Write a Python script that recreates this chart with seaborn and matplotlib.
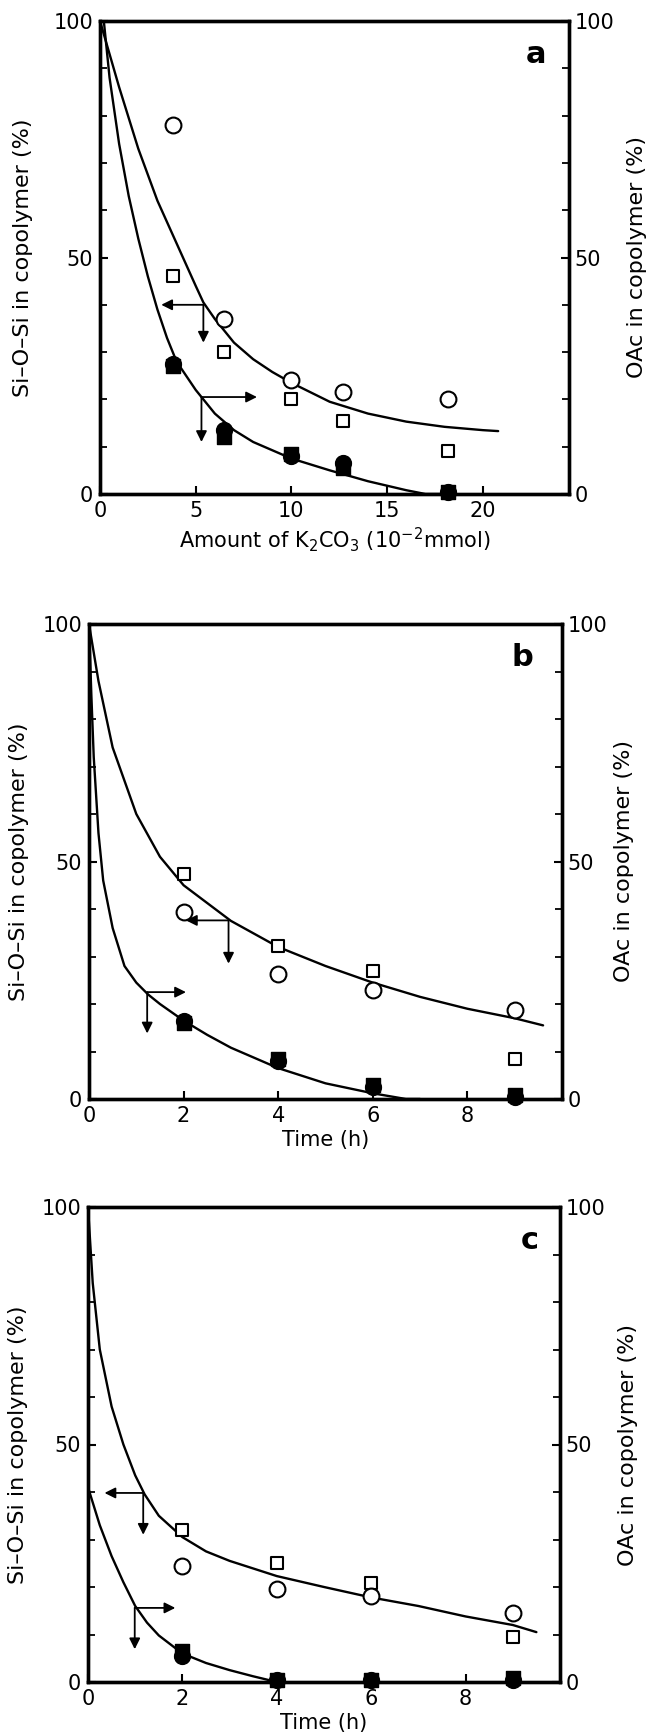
import matplotlib
matplotlib.use("Agg")
import matplotlib.pyplot as plt
import seaborn as sns
import numpy as np

# -----------------------------
# Panel a: amount of K2CO3
# -----------------------------
a_x = [3.8, 6.5, 10.0, 12.7, 18.2]
a_open_circle = [78, 37, 24, 21.5, 20]
a_open_square = [46, 30, 20, 15.5, 9]
a_fill_circle = [27.5, 13.5, 8, 6.5, 0.5]
a_fill_square = [27, 12, 8.5, 5.5, 0.5]

a_curve1_x = [0, 1, 2, 3, 4, 5, 5.4, 6, 7, 8, 9, 10, 12, 14, 16, 18, 20, 20.8]
a_curve1_y = [100, 86, 73, 62, 53, 44, 40.5, 37, 32, 28.5, 25.8, 23.5, 19.5, 17, 15.3, 14.2, 13.5, 13.3]
a_curve2_x = [0.2, 0.5, 1, 1.5, 2, 2.5, 3, 3.5, 4, 5, 5.3, 6, 7, 8, 10, 12, 14, 16, 17, 18.2]
a_curve2_y = [100, 88, 74, 63, 54, 46, 39, 33, 28, 22, 20.5, 17, 13.5, 11, 7.5, 5, 2.7, 0.8, 0, 0]

# arrows: (junction, horizontal tip, vertical tip)
a_arrows = [((5.4, 40), (3.2, 40), (5.4, 32)),
            ((5.3, 20.5), (8.2, 20.5), (5.3, 11))]

# -----------------------------
# Panel b: time
# -----------------------------
b_x = [2, 4, 6, 9]
b_open_circle = [39.4, 26.3, 23, 18.8]
b_open_square = [47.3, 32.3, 27, 8.5]
b_fill_circle = [16.5, 8, 2.5, 0.5]
b_fill_square = [16, 8.5, 3, 0.8]

b_curve1_x = [0, 0.2, 0.5, 1, 1.5, 2, 3, 4, 5, 6, 7, 8, 9, 9.6]
b_curve1_y = [100, 88, 74, 60, 51, 45, 37.5, 32, 28, 24.5, 21.5, 19, 17, 15.5]
b_curve2_x = [0, 0.05, 0.1, 0.2, 0.3, 0.5, 0.75, 1, 1.25, 1.5, 2, 2.5, 3, 4, 5, 6, 6.7, 7]
b_curve2_y = [100, 85, 72, 56, 46, 36, 28, 24.5, 22, 20, 16.5, 13.5, 10.8, 6.5, 3.3, 1.2, 0, 0]

b_arrows = [((2.95, 37.6), (2.05, 37.6), (2.95, 28.5)),
            ((1.23, 22.5), (2.05, 22.5), (1.23, 13.8))]

# -----------------------------
# Panel c: time
# -----------------------------
c_x = [2, 4, 6, 9]
c_open_circle = [24.4, 19.6, 18.2, 14.5]
c_open_square = [32.1, 25, 20.8, 9.5]
c_fill_circle = [5.5, 0.4, 0.4, 0.4]
c_fill_square = [6.5, 0.5, 0.5, 0.8]

c_curve1_x = [0, 0.1, 0.25, 0.5, 0.75, 1, 1.2, 1.5, 2, 2.5, 3, 4, 5, 6, 7, 8, 9, 9.5]
c_curve1_y = [100, 84, 70, 58, 50, 43.5, 39.5, 35, 30.5, 27.5, 25.5, 22.3, 20, 17.8, 16, 13.8, 12, 10.5]
c_curve2_x = [0, 0.25, 0.5, 0.75, 1, 1.25, 1.5, 2, 2.5, 3, 3.5, 4]
c_curve2_y = [41, 33, 26.5, 21, 16, 12.5, 9.8, 6, 4, 2.5, 1.2, 0]

c_arrows = [((1.17, 39.8), (0.35, 39.8), (1.17, 31)),
            ((0.99, 15.6), (1.85, 15.6), (0.99, 6.9))]

panels = [
    dict(letter="a", x=a_x, oc=a_open_circle, osq=a_open_square, fc=a_fill_circle, fsq=a_fill_square,
         c1=(a_curve1_x, a_curve1_y), c2=(a_curve2_x, a_curve2_y), arrows=a_arrows,
         xlim=24.5, xticks=[0, 5, 10, 15, 20], letter_xy=(23.3, 93),
         xlabel="Amount of K$_2$CO$_3$ (10$^{-2}$mmol)",
         rect=[100, 21, 569, 494], ylab=(-0.165, 1.145)),
    dict(letter="b", x=b_x, oc=b_open_circle, osq=b_open_square, fc=b_fill_circle, fsq=b_fill_square,
         c1=(b_curve1_x, b_curve1_y), c2=(b_curve2_x, b_curve2_y), arrows=b_arrows,
         xlim=10, xticks=[0, 2, 4, 6, 8], letter_xy=(9.4, 93),
         xlabel="Time (h)", rect=[89, 624, 562, 1099], ylab=(-0.148, 1.131)),
    dict(letter="c", x=c_x, oc=c_open_circle, osq=c_open_square, fc=c_fill_circle, fsq=c_fill_square,
         c1=(c_curve1_x, c_curve1_y), c2=(c_curve2_x, c_curve2_y), arrows=c_arrows,
         xlim=10, xticks=[0, 2, 4, 6, 8], letter_xy=(9.55, 93),
         xlabel="Time (h)", rect=[88, 1207, 560, 1682], ylab=(-0.148, 1.145)),
]

sns.set_theme(style="ticks")
plt.rcParams["font.family"] = ["DejaVu Sans"]
plt.rcParams.update({
    "text.color": "black",
    "axes.labelcolor": "black",
    "axes.edgecolor": "black",
    "xtick.color": "black",
    "ytick.color": "black",
})

W, H = 650, 1736
fig = plt.figure(figsize=(W / 100, H / 100), dpi=100)

for p in panels:
    x0, y0, x1, y1 = p["rect"]
    ax = fig.add_axes([x0 / W, 1 - y1 / H, (x1 - x0) / W, (y1 - y0) / H])

    sns.lineplot(x=p["c1"][0], y=p["c1"][1], ax=ax, color="black", lw=1.7,
                 estimator=None, sort=False)
    sns.lineplot(x=p["c2"][0], y=p["c2"][1], ax=ax, color="black", lw=1.7,
                 estimator=None, sort=False)

    sns.scatterplot(x=p["x"], y=p["osq"], ax=ax, marker="s", s=85, color="white",
                    edgecolor="black", linewidth=1.5, zorder=3, clip_on=False)
    sns.scatterplot(x=p["x"], y=p["oc"], ax=ax, marker="o", s=130, color="white",
                    edgecolor="black", linewidth=1.5, zorder=3, clip_on=False)
    sns.scatterplot(x=p["x"], y=p["fsq"], ax=ax, marker="s", s=110, color="black",
                    edgecolor="black", linewidth=1, zorder=4, clip_on=False)
    sns.scatterplot(x=p["x"], y=p["fc"], ax=ax, marker="o", s=130, color="black",
                    edgecolor="black", linewidth=1, zorder=4, clip_on=False)

    for junc, htip, vtip in p["arrows"]:
        for tip in (htip, vtip):
            ax.annotate("", xy=tip, xytext=junc,
                        arrowprops=dict(arrowstyle="-|>", color="black", lw=1.3,
                                        mutation_scale=16, shrinkA=0, shrinkB=0))

    ax.text(p["letter_xy"][0], p["letter_xy"][1], p["letter"], fontsize=22,
            fontweight="bold", ha="right", va="center", color="black")

    ax.set_xlim(0, p["xlim"])
    ax.set_ylim(0, 100)
    ax.set_xticks(p["xticks"])
    ax.set_yticks([0, 50, 100])
    ax.set_yticks(np.arange(0, 101, 10), minor=True)
    ax.tick_params(axis="both", which="major", direction="in", length=6, width=1.5,
                   labelsize=15, pad=5)
    ax.tick_params(axis="y", which="minor", direction="in", length=5, width=1.3)
    ax.set_xlabel(p["xlabel"], fontsize=15, labelpad=3)
    ax.set_ylabel("Si\u2013O\u2013Si in copolymer (%)", fontsize=16, va="center")
    ax.yaxis.set_label_coords(p["ylab"][0], 0.5)
    for sp in ax.spines.values():
        sp.set_linewidth(2.4)

    ax2 = ax.twinx()
    ax2.set_ylim(0, 100)
    ax2.set_yticks([0, 50, 100])
    ax2.set_yticks(np.arange(0, 101, 10), minor=True)
    ax2.tick_params(axis="y", which="major", direction="in", length=6, width=1.5,
                    labelsize=15, pad=4)
    ax2.tick_params(axis="y", which="minor", direction="in", length=5, width=1.3)
    ax2.set_ylabel("OAc in copolymer (%)", fontsize=16, va="center")
    ax2.yaxis.set_label_coords(p["ylab"][1], 0.5)
    for sp in ax2.spines.values():
        sp.set_linewidth(2.4)

fig.savefig("out.png", dpi=100)
plt.close(fig)
